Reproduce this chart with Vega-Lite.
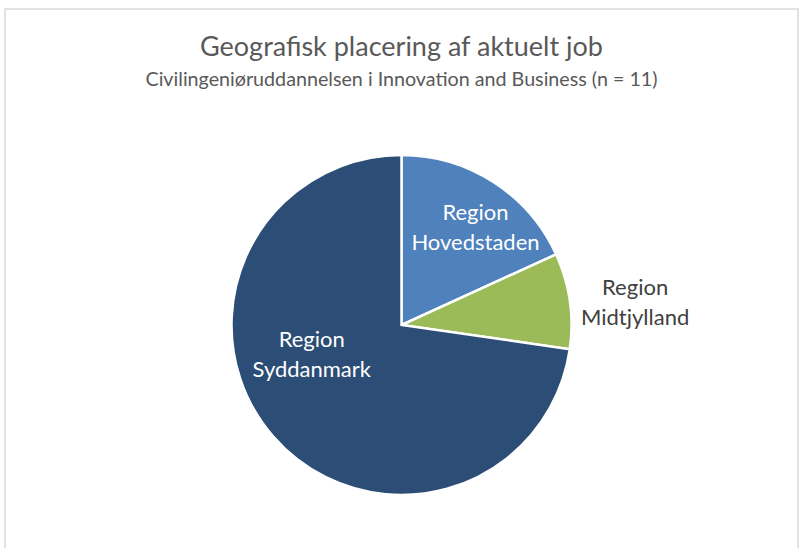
{
  "$schema": "https://vega.github.io/schema/vega-lite/v6.json",
  "autosize": "none",
  "width": 793,
  "height": 632,
  "padding": {"left": 5, "top": 9, "right": 3, "bottom": 0},
  "background": "white",
  "view": {"stroke": "#d9d9d9", "strokeWidth": 1.5},
  "title": {
    "text": "Geografisk placering af aktuelt job",
    "subtitle": "Civilingeniøruddannelsen i Innovation and Business (n = 11)",
    "anchor": "middle",
    "offset": -82,
    "font": "Lato",
    "fontSize": 27,
    "fontWeight": "normal",
    "color": "#595959",
    "subtitleFont": "Lato",
    "subtitleFontSize": 19.7,
    "subtitleColor": "#595959",
    "subtitlePadding": 8
  },
  "data": {
    "values": [
      {"region": "Region Hovedstaden", "label": "Region\nHovedstaden", "count": 2},
      {"region": "Region Midtjylland", "label": "Region\nMidtjylland", "count": 1},
      {"region": "Region Syddanmark", "label": "Region\nSyddanmark", "count": 8}
    ]
  },
  "encoding": {
    "theta": {"field": "count", "type": "quantitative", "stack": true},
    "color": {
      "field": "region",
      "type": "nominal",
      "scale": {
        "domain": ["Region Hovedstaden", "Region Midtjylland", "Region Syddanmark"],
        "range": ["#4f81bd", "#9bbb59", "#2c4d75"]
      },
      "legend": null
    }
  },
  "layer": [
    {"mark": {"type": "arc", "radius": 170, "stroke": "white", "strokeWidth": 2.5}},
    {
      "mark": {"type": "text", "radius": 122, "dx": 8, "dy": -9, "font": "Lato", "fontSize": 22, "lineBreak": "\n", "lineHeight": 30, "align": "center", "baseline": "middle"},
      "encoding": {
        "text": {"condition": {"test": "datum.region == 'Region Hovedstaden'", "field": "label"}, "value": ""},
        "color": {"value": "white"}
      }
    },
    {
      "mark": {"type": "text", "radius": 234, "dx": 2, "dy": -4, "font": "Lato", "fontSize": 22, "lineBreak": "\n", "lineHeight": 30, "align": "center", "baseline": "middle"},
      "encoding": {
        "text": {"condition": {"test": "datum.region == 'Region Midtjylland'", "field": "label"}, "value": ""},
        "color": {"value": "#404040"}
      }
    },
    {
      "mark": {"type": "text", "radius": 87, "dx": -24, "dy": -42, "font": "Lato", "fontSize": 22, "lineBreak": "\n", "lineHeight": 30, "align": "center", "baseline": "middle"},
      "encoding": {
        "text": {"condition": {"test": "datum.region == 'Region Syddanmark'", "field": "label"}, "value": ""},
        "color": {"value": "white"}
      }
    }
  ]
}
